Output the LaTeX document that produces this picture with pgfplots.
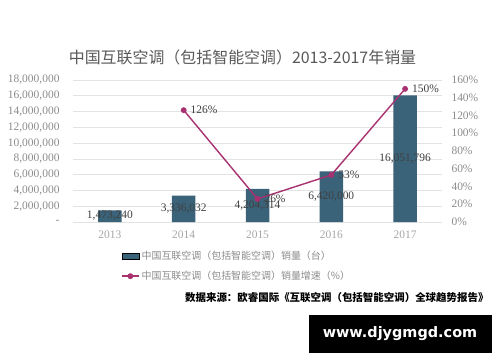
\documentclass[border=0pt]{standalone}
\usepackage{pgfplots}
\pgfplotsset{compat=1.18}
\usepackage{fontspec}
\setmainfont{Liberation Serif}
\newfontfamily\cjk{Noto Sans CJK SC}
\newfontfamily\wm{DejaVu Sans}
\definecolor{barc}{HTML}{3A6278}
\definecolor{linec}{HTML}{A83170}
\definecolor{gridc}{HTML}{E3E3E3}
\definecolor{tickc}{HTML}{8C8C8C}
\definecolor{labc}{HTML}{404040}
\begin{document}
\begin{tikzpicture}[x=1bp,y=1bp]
\useasboundingbox[fill=white] (0,0) rectangle (500,362);
\node[font=\cjk\fontsize{16}{17}\selectfont, text=black!65] at (242.5,305) {中国互联空调（包括智能空调）2013-2017年销量};
\begin{axis}[
  at={(73bp,140bp)}, anchor=south west,
  scale only axis, width=369bp, height=142bp,
  xmin=-0.5, xmax=4.5, ymin=0, ymax=18000000,
  axis line style={draw=none},
  scaled y ticks=false,
  xtick={0,1,2,3,4}, xticklabels={2013,2014,2015,2016,2017},
  ytick={0,2000000,4000000,6000000,8000000,10000000,12000000,14000000,16000000,18000000},
  yticklabels={{-},{2,000,000},{4,000,000},{6,000,000},{8,000,000},{10,000,000},{12,000,000},{14,000,000},{16,000,000},{18,000,000}},
  ymajorgrids, grid style={gridc, line width=0.7bp},
  major tick length=0pt,
  tick label style={font=\fontsize{11.5}{12}\selectfont, text=tickc},
  xticklabel style={yshift=-5bp, text=black!35},
  yticklabel style={xshift=-10bp},
  clip=false,
]
\addplot[ybar, bar width=23.5bp, fill=barc, draw=none] coordinates {(0,1473240) (1,3336032) (2,4204314) (3,6420000) (4,16051796)};
\addplot[draw=none, mark=none, nodes near coords, point meta=explicit symbolic,
  every node near coord/.style={anchor=center, font=\fontsize{11.5}{12}\selectfont, text=labc}]
  table[meta=lab] {
x y lab
0 800000 1,473,240
1 1668016 3,336,032
2 2102157 4,204,314
3 3210000 6,420,000
4 8025898 16,051,796
};
\end{axis}
\begin{axis}[
  at={(73bp,140bp)}, anchor=south west,
  scale only axis, width=369bp, height=142bp,
  xmin=-0.5, xmax=4.5, ymin=0, ymax=160,
  axis x line=none, axis y line*=right, y axis line style={draw=none},
  ytick={0,20,...,160}, yticklabel={\pgfmathprintnumber{\tick}\%},
  major tick length=0pt,
  tick label style={font=\fontsize{11.5}{12}\selectfont, text=tickc},
  yticklabel style={xshift=6bp},
  /pgf/number format/assume math mode=true,
  clip=false,
  legend style={at={(0.130,-0.19)}, anchor=north west, draw=none, fill=none,
    font=\cjk\fontsize{10}{11}\selectfont, text=black!45, row sep=6bp,
    inner sep=0pt, cells={anchor=west}},
  legend cell align=left,
]
\addlegendimage{area legend, fill=barc, draw=none}
\addlegendentry{中国互联空调（包括智能空调）销量（台）}
\addplot[linec, line width=1.4bp, mark=*, mark size=2.2bp, mark options={fill=linec, draw=linec},
  nodes near coords, point meta=explicit symbolic,
  every node near coord/.style={anchor=west, xshift=3bp, font=\fontsize{11.5}{12}\selectfont, text=labc}]
  table[meta=lab] {
x y lab
1 126 126\%
2 26 26\%
3 53 53\%
4 150 150\%
};
\addlegendentry{中国互联空调（包括智能空调）销量增速（\%）}
\end{axis}
\node[font=\cjk\fontsize{10.5}{11}\selectfont\bfseries, anchor=east] at (492,64) {数据来源：欧睿国际《互联空调（包括智能空调）全球趋势报告》};
\fill[black] (309,9) rectangle (492,47);
\node[font=\wm\bfseries\fontsize{14.5}{15}\selectfont, text=white] at (400,28) {www.djygmgd.com};
\end{tikzpicture}
\end{document}
